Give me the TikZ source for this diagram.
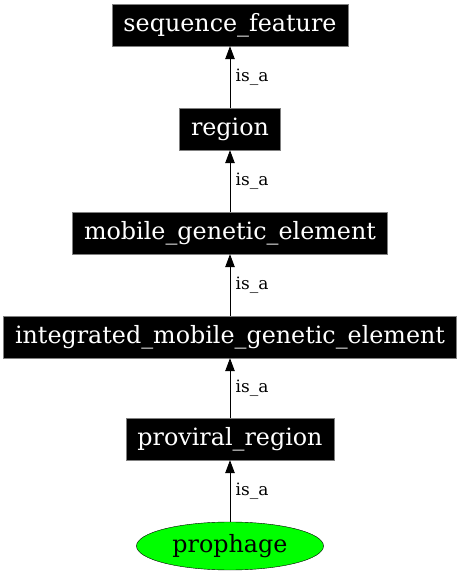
\documentclass[tikz,border=0pt]{standalone}
\usepackage{fontspec}
\setmainfont{DejaVu Serif}
\usetikzlibrary{arrows.meta,shapes.geometric}

\begin{document}
\begin{tikzpicture}[x=1pt, y=1pt,
    term/.style = {rectangle, draw=gray, fill=black, text=white,
minimum height=42pt, inner xsep=11.5pt, inner ysep=0pt,
font=\fontsize{23.8}{28}\selectfont},
leaf/.style = {ellipse, draw=black, fill=green, text=black,
minimum width=187pt, minimum height=48pt, inner sep=0pt,
font=\fontsize{23.8}{28}\selectfont},
isa/.style = {-{Triangle[length=13pt, width=9.5pt]}, line width=0.8pt},
isalabel/.style = {midway, right, xshift=2pt, font=\fontsize{17}{20}\selectfont},
node distance=104pt
]
  \useasboundingbox (-230,-30) rectangle (231,546);

  \node (prophage) [leaf] {prophage};
  \node (proviral) [term, above of=prophage, yshift=3pt] {proviral\_region};
  \node (imge)     [term, above of=proviral, yshift=-2pt] {integrated\_mobile\_genetic\_element};
  \node (mge)      [term, above of=imge] {mobile\_genetic\_element};
  \node (region)   [term, above of=mge] {region};
  \node (seqfeat)  [term, above of=region] {sequence\_feature};

  \draw[isa] (prophage) -- (proviral) node[isalabel] {is\_a};
  \draw[isa] (proviral) -- (imge)     node[isalabel] {is\_a};
  \draw[isa] (imge)     -- (mge)      node[isalabel] {is\_a};
  \draw[isa] (mge)      -- (region)   node[isalabel] {is\_a};
  \draw[isa] (region)   -- (seqfeat)  node[isalabel] {is\_a};

\end{tikzpicture}
\end{document}
